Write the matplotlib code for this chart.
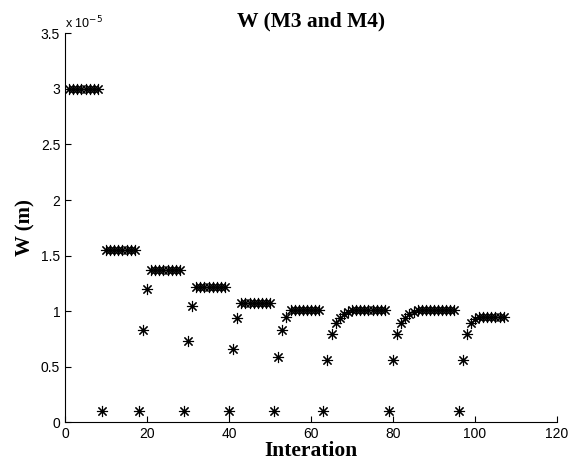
import numpy as np
import matplotlib
matplotlib.use("Agg")
import matplotlib.pyplot as plt
from matplotlib.ticker import FuncFormatter

SCALE = 1e-5                                                     # values below are in units of 1e-5 m

# W per iteration (x 1e-5 m)
w_vals = [3.0, 3.0, 3.0, 3.0, 3.0, 3.0, 3.0, 3.0,
          0.1,
          1.55, 1.55, 1.55, 1.55, 1.55, 1.55, 1.55, 1.55,
          0.1,
          0.83, 1.20,
          1.37, 1.37, 1.37, 1.37, 1.37, 1.37, 1.37, 1.37,
          0.1,
          0.73, 1.05,
          1.22, 1.22, 1.22, 1.22, 1.22, 1.22, 1.22, 1.22,
          0.1,
          0.66, 0.94,
          1.07, 1.07, 1.07, 1.07, 1.07, 1.07, 1.07, 1.07,
          0.1,
          0.59, 0.83, 0.95,
          1.01, 1.01, 1.01, 1.01, 1.01, 1.01, 1.01, 1.01,
          0.1,
          0.56, 0.79, 0.89, 0.94, 0.97, 0.99,
          1.01, 1.01, 1.01, 1.01, 1.01, 1.01, 1.01, 1.01, 1.01,
          0.1,
          0.56, 0.79, 0.89, 0.94, 0.97, 0.99,
          1.01, 1.01, 1.01, 1.01, 1.01, 1.01, 1.01, 1.01, 1.01, 1.01,
          0.1,
          0.56, 0.79, 0.89, 0.93,
          0.95, 0.95, 0.95, 0.95, 0.95, 0.95, 0.95]

x_ticks = [0, 20, 40, 60, 80, 100, 120]
y_ticks = [0, 0.5, 1, 1.5, 2, 2.5, 3, 3.5]

w = np.array(w_vals) * SCALE
iters = np.arange(1, len(w) + 1)

fig = plt.figure(figsize=(5.83, 4.66), dpi=100)
ax = fig.add_axes([0.1115, 0.0938, 0.8439, 0.8347])

ax.plot(iters, w, linestyle='none', marker=(8, 2, 0), markersize=8,
        markeredgewidth=0.8, color='black')

ax.set_xlim(0, 120)
ax.set_ylim(0, 3.5 * SCALE)
ax.set_xticks(x_ticks)
ax.set_yticks([v * SCALE for v in y_ticks])
ax.yaxis.set_major_formatter(FuncFormatter(lambda v, p: '%g' % round(v / SCALE, 3)))

ax.spines['top'].set_visible(False)
ax.spines['right'].set_visible(False)
ax.tick_params(direction='in', length=4, labelsize=10)
for lbl in ax.get_xticklabels() + ax.get_yticklabels():
    lbl.set_family('Liberation Sans')

ax.text(0.0, 1.005, r'x 10$^{-5}$', transform=ax.transAxes, ha='left', va='bottom',
        fontsize=9, family='Liberation Sans')

ax.set_title('W (M3 and M4)', fontsize=15.5, fontweight='bold', family='Liberation Serif', pad=5)
ax.set_xlabel('Interation', fontsize=15.5, fontweight='bold', family='Liberation Serif', labelpad=0)
ax.set_ylabel('W (m)', fontsize=15, fontweight='bold', family='Liberation Serif', labelpad=4)

fig.savefig('out.png', dpi=100)
